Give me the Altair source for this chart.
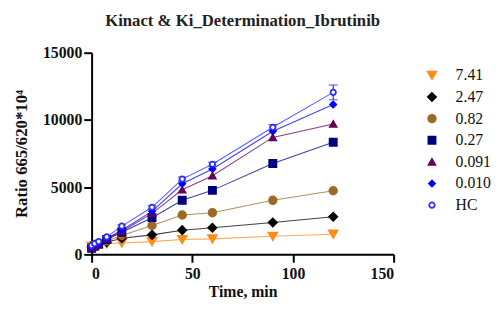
import altair as alt
import pandas as pd

times = [0, 1.5, 3.5, 7.5, 15, 30, 45, 60, 90, 120]
series = ["7.41", "2.47", "0.82", "0.27", "0.091", "0.010", "HC"]
values = {
    "7.41": [600, 650, 700, 800, 850, 950, 1100, 1150, 1350, 1500],
    "2.47": [550, 650, 750, 900, 1200, 1450, 1800, 1980, 2370, 2800],
    "0.82": [500, 650, 800, 1000, 1400, 2150, 2930, 3100, 4020, 4730],
    "0.27": [450, 600, 750, 1100, 1650, 2730, 4020, 4760, 6760, 8340],
    "0.091": [500, 650, 800, 1150, 1700, 3050, 4800, 5850, 8700, 9700],
    "0.010": [550, 700, 850, 1200, 1800, 3200, 5250, 6350, 9150, 11150],
    "HC": [650, 800, 950, 1300, 2100, 3500, 5600, 6700, 9450, 12050],
}
hc_err = [60, 60, 60, 80, 100, 120, 150, 150, 200, 550]

colors = ["#FF8C1A", "#000000", "#9C6A28", "#00007F", "#660055", "#0000FF", "#2A2AFF"]
fills = ["#FF8C1A", "#000000", "#9C6A28", "#00007F", "#660055", "#0000FF", "#FFFFFF"]
shapes = ["triangle-down", "diamond", "circle", "square", "triangle-up", "diamond", "circle"]
sizes = [75, 30, 95, 80, 85, 70, 50]

rows = []
for si, s in enumerate(series):
    for t, v in zip(times, values[s]):
        rows.append({"series": s, "time": t, "value": v, "order": si})
df = pd.DataFrame(rows)

err_df = pd.DataFrame({"time": times, "lo": [v - e for v, e in zip(values["HC"], hc_err)],
                       "hi": [v + e for v, e in zip(values["HC"], hc_err)]})

FONT = "Liberation Serif"

x = alt.X("time:Q", scale=alt.Scale(domain=[0, 150], nice=False),
          axis=alt.Axis(values=[0, 50, 100, 150], title="Time, min", format="d",
                        labelFont=FONT, labelFontSize=16, labelFontWeight="bold",
                        titleFont=FONT, titleFontSize=16, titleFontWeight="bold",
                        labelPadding=4, titlePadding=2))
y = alt.Y("value:Q", scale=alt.Scale(domain=[0, 15000], nice=False),
          axis=alt.Axis(values=[0, 5000, 10000, 15000], title="Ratio 665/620*10⁴", format="d",
                        labelFont=FONT, labelFontSize=16, labelFontWeight="bold",
                        titleFont=FONT, titleFontSize=17, titleFontWeight="bold",
                        labelPadding=2, titlePadding=12))

def leg():
    return alt.Legend(title=None, orient="none", legendX=338, legendY=15,
                      labelFont=FONT, labelFontSize=16, labelColor="#111",
                      rowPadding=6, labelOffset=16, symbolStrokeWidth=1.8,
                      symbolOpacity=1)

color = alt.Color("series:N", scale=alt.Scale(domain=series, range=colors), legend=leg())
fill = alt.Fill("series:N", scale=alt.Scale(domain=series, range=fills), legend=leg())
shape = alt.Shape("series:N", scale=alt.Scale(domain=series, range=shapes), legend=leg())
size = alt.Size("series:N", scale=alt.Scale(domain=series, range=sizes), legend=leg())

lines = alt.Chart(df).mark_line(strokeWidth=1.1, opacity=0.75).encode(
    x=x, y=y, detail="series:N", color=color,
    order=alt.Order("time:Q"))

errs = alt.Chart(err_df).mark_rule(color="#2A2AFF", strokeWidth=1.2).encode(
    x="time:Q", y="lo:Q", y2="hi:Q")
caps_hi = alt.Chart(err_df).mark_tick(color="#2A2AFF", thickness=1.2, size=9, orient="horizontal").encode(
    x="time:Q", y="hi:Q")
caps_lo = alt.Chart(err_df).mark_tick(color="#2A2AFF", thickness=1.2, size=9, orient="horizontal").encode(
    x="time:Q", y="lo:Q")

points = alt.Chart(df).mark_point(filled=False, strokeWidth=1.8, opacity=1).encode(
    x=x, y=y, color=color, fill=fill, shape=shape, size=size,
    order=alt.Order("order:Q"))

chart = alt.layer(lines, errs, caps_hi, caps_lo, points).properties(
    width=307, height=205,
    autosize=alt.AutoSizeParams(type="none"),
    padding={"left": 85, "top": 43, "right": 99, "bottom": 47},
    title=alt.Title("Kinact & Ki_Determination_Ibrutinib", font=FONT, fontSize=17,
                    fontWeight="bold", color="#222", offset=15, anchor="middle",
                    frame="group"),
).configure_view(stroke=None).configure_axis(
    grid=False, domainColor="#000", domainWidth=2, tickColor="#000", tickWidth=2, tickSize=8,
    labelColor="#111", titleColor="#111",
)

chart.save("out.html", embed_options={"renderer": "svg", "actions": False})
